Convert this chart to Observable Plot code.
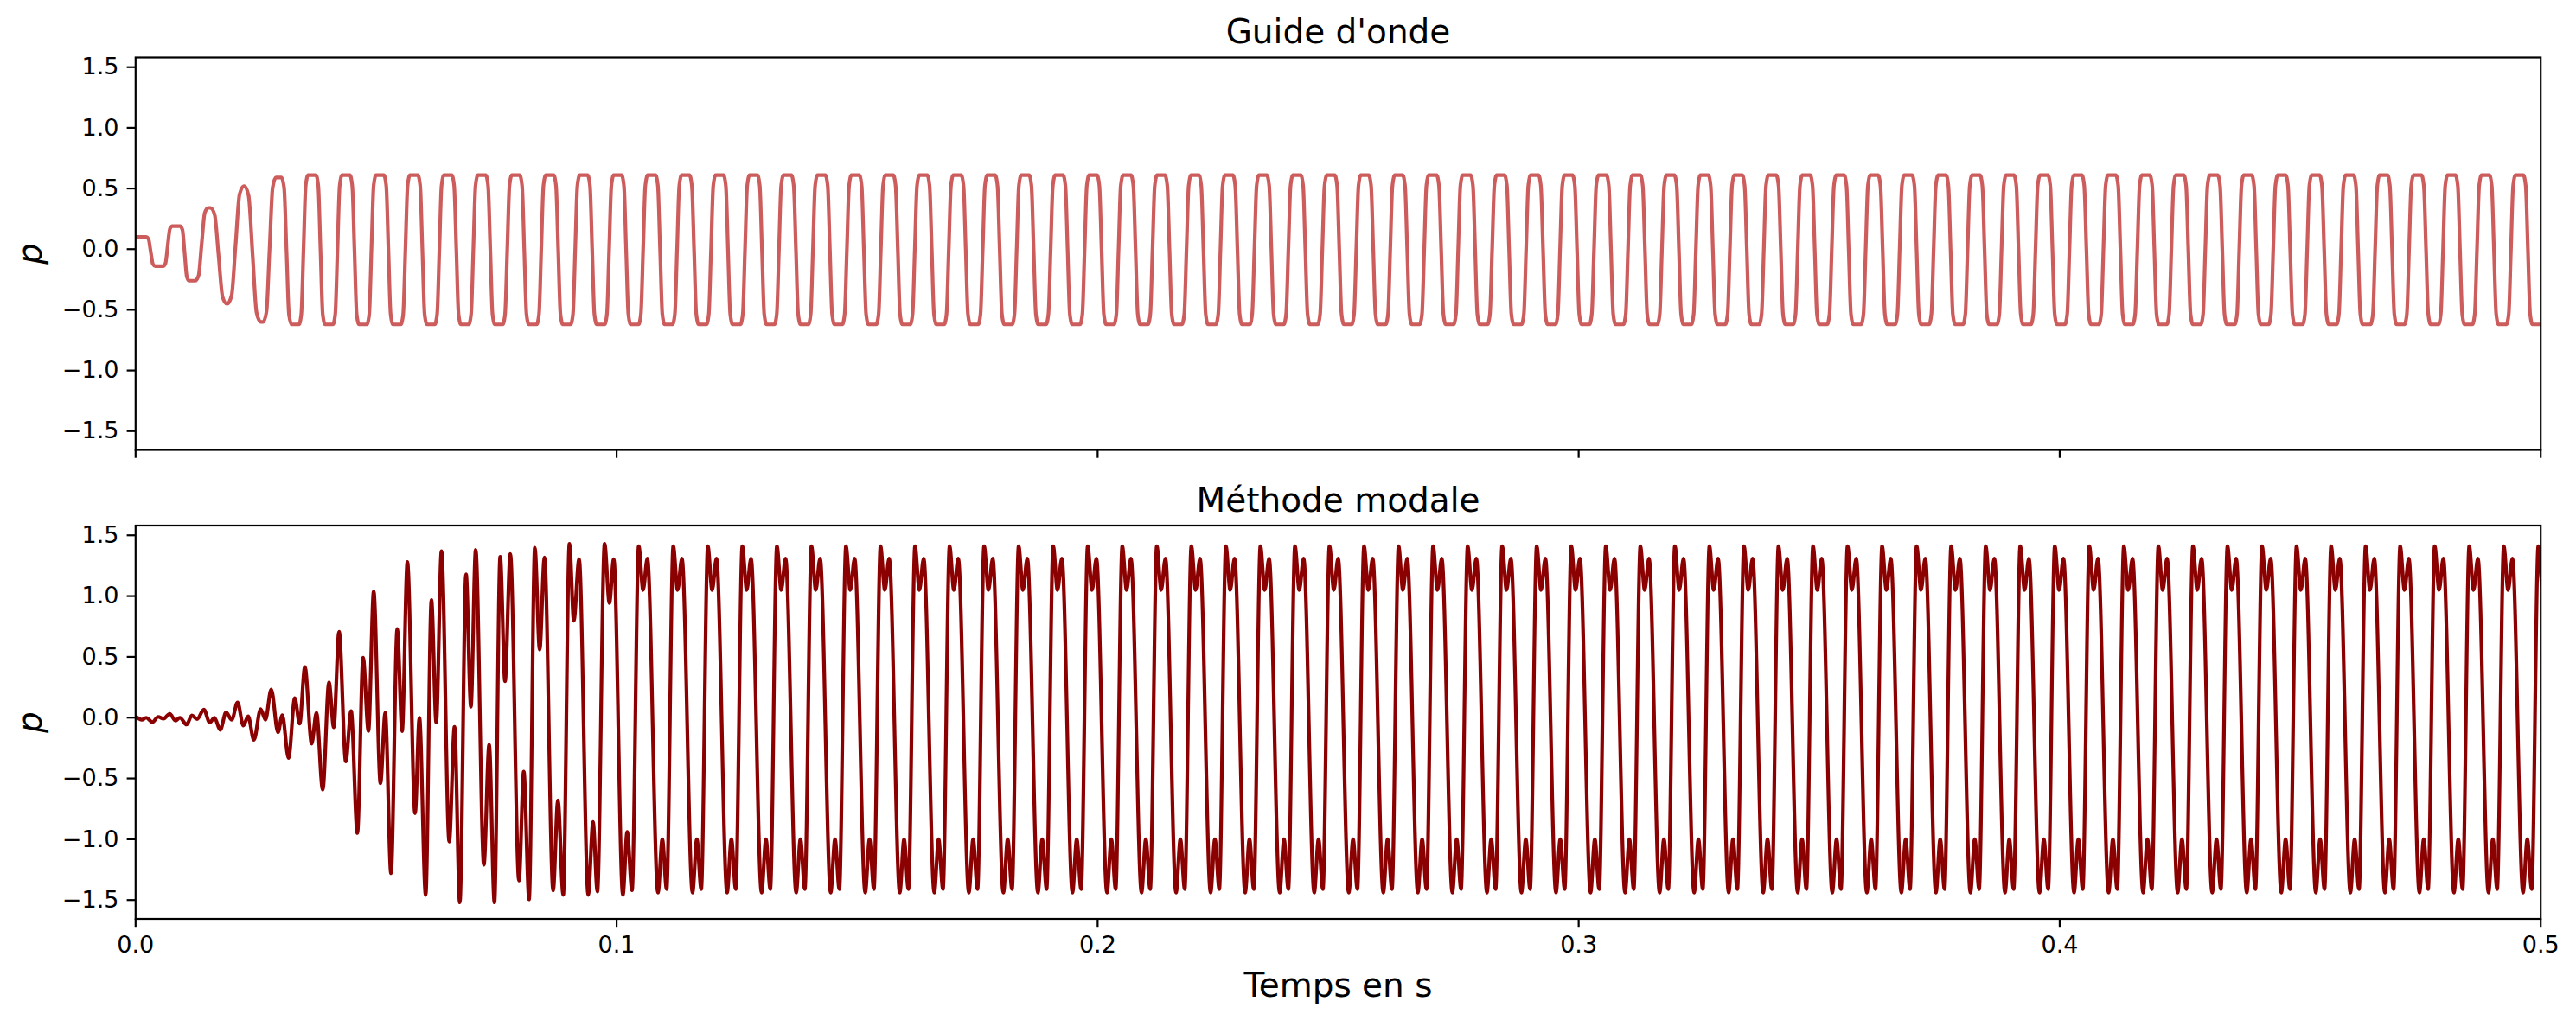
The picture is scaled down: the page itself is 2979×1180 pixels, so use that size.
<!DOCTYPE html>
<html>
<head>
<meta charset="utf-8">
<script src="https://cdn.jsdelivr.net/npm/d3@7"></script>
<script src="https://cdn.jsdelivr.net/npm/@observablehq/plot@0.6"></script>
<style>
  html, body { margin: 0; padding: 0; background: white; }
  #chart { width: 2979px; height: 1180px; }
  #chart svg { display: block; }
</style>
</head>
<body>
<div id="chart"></div>
<script>
// ---------- texts ----------
const titleTop = "Guide d'onde";
const titleBottom = "Méthode modale";
const yLabel = "p";
const xLabel = "Temps en s";

// ---------- ticks ----------
const xTicks = [0, 0.1, 0.2, 0.3, 0.4, 0.5];
const xTickLabels = ["0.0", "0.1", "0.2", "0.3", "0.4", "0.5"];
const yTicks = [-1.5, -1.0, -0.5, 0, 0.5, 1.0, 1.5];
const yTickLabels = ["−1.5", "−1.0", "−0.5", "0.0", "0.5", "1.0", "1.5"];
const xDomain = [0, 0.5];
const yDomain = [-1.655, 1.58];

// ---------- top series: "Guide d'onde" ----------
// plateau level of every half-period
const guideLevels = [
  0.10, -0.14, 0.19, -0.26, 0.34, -0.45, 0.52, -0.60, 0.59, -0.62,
  0.61, -0.62, 0.61, -0.62, 0.61, -0.62, 0.61, -0.62, 0.61, -0.62, 0.61, -0.62,
  0.61, -0.62, 0.61, -0.62, 0.61, -0.62, 0.61, -0.62, 0.61, -0.62, 0.61, -0.62,
  0.61, -0.62, 0.61, -0.62, 0.61, -0.62, 0.61, -0.62, 0.61, -0.62, 0.61, -0.62,
  0.61, -0.62, 0.61, -0.62, 0.61, -0.62, 0.61, -0.62, 0.61, -0.62, 0.61, -0.62,
  0.61, -0.62, 0.61, -0.62, 0.61, -0.62, 0.61, -0.62, 0.61, -0.62, 0.61, -0.62,
  0.61, -0.62, 0.61, -0.62, 0.61, -0.62, 0.61, -0.62, 0.61, -0.62, 0.61, -0.62,
  0.61, -0.62, 0.61, -0.62, 0.61, -0.62, 0.61, -0.62, 0.61, -0.62, 0.61, -0.62,
  0.61, -0.62, 0.61, -0.62, 0.61, -0.62, 0.61, -0.62, 0.61, -0.62, 0.61, -0.62,
  0.61, -0.62, 0.61, -0.62, 0.61, -0.62, 0.61, -0.62, 0.61, -0.62, 0.61, -0.62,
  0.61, -0.62, 0.61, -0.62, 0.61, -0.62, 0.61, -0.62, 0.61, -0.62, 0.61, -0.62,
  0.61, -0.62, 0.61, -0.62, 0.61, -0.62, 0.61, -0.62, 0.61, -0.62, 0.61, -0.62
];
// relative duration of the first switches (the early ones are rounder)
const guideEdgeWidths = [1.0, 1.0, 1.0, 1.4, 1.8, 1.8, 1.8, 1.4, 1.1];
const guideFirstEdge = 0.00314;   // s, time of first switch
const guideHalfPeriod = 0.00353;  // s
// shape of one switch: [offset in half-periods, fraction of the step]
const guideEdgeOffsets = [-0.27, -0.13, 0, 0.13, 0.27];
const guideEdgeFractions = [0, 0.07, 0.5, 0.93, 1];

// ---------- bottom series: "Méthode modale" ----------
// transient extrema
const modalTimes = [
  0.0000, 0.0013, 0.0022, 0.0035, 0.0047, 0.0058, 0.0071, 0.0083, 0.0092, 0.0106,
  0.0117, 0.0128, 0.0142, 0.0154, 0.0164, 0.0176, 0.0188, 0.0200, 0.0212, 0.0224,
  0.0234, 0.0246, 0.0260, 0.0270, 0.0282, 0.0296, 0.0305, 0.0318, 0.0331, 0.0341,
  0.0352, 0.0366, 0.0376, 0.0389, 0.0402, 0.0412, 0.0423, 0.0437, 0.0448, 0.0461,
  0.0473, 0.0484, 0.0495, 0.0509, 0.0519, 0.0531, 0.0544, 0.0554, 0.0565, 0.0581,
  0.0590, 0.0603, 0.0615, 0.0625, 0.0636, 0.0652, 0.0663, 0.0674, 0.0687, 0.0697,
  0.0707, 0.0724, 0.0735, 0.0746, 0.0758, 0.0768, 0.0779, 0.0797, 0.0807, 0.0818,
  0.0830, 0.0840, 0.0850, 0.0868, 0.0878, 0.0889, 0.0902, 0.0911, 0.0922, 0.0941,
  0.0951, 0.0960, 0.0975, 0.0985, 0.0994, 0.1013, 0.1022, 0.1032
];
const modalValues = [
  0.011, -0.017, 0.000, -0.036, 0.007, -0.009, 0.031, -0.024, 0.000, -0.057,
  0.019, -0.012, 0.066, -0.040, 0.000, -0.100, 0.043, -0.017, 0.125, -0.065,
  0.011, -0.183, 0.070, -0.017, 0.232, -0.120, 0.020, -0.332, 0.160, -0.050,
  0.417, -0.214, 0.040, -0.593, 0.290, -0.080, 0.706, -0.360, 0.055, -0.949,
  0.493, -0.110, 1.038, -0.540, 0.040, -1.280, 0.730, -0.112, 1.280, -0.787,
  0.000, -1.458, 0.967, -0.040, 1.370, -1.020, -0.076, -1.520, 1.180, 0.090,
  1.380, -1.210, -0.223, -1.520, 1.323, 0.300, 1.346, -1.340, -0.444, -1.494,
  1.398, 0.559, 1.318, -1.422, -0.680, -1.458, 1.430, 0.797, 1.304, -1.458,
  -0.858, -1.430, 1.430, 0.943, 1.304, -1.458, -0.940, -1.420
];
// steady-state cycle (offsets from the main peak)
const modalCycleOffsets = [0, 0.0009, 0.0018, 0.0040, 0.0049, 0.0058];
const modalCycleValues = [1.41, 1.05, 1.31, -1.44, -1.00, -1.41];
const modalSteadyStart = 0.1046;  // s, first steady main peak
const modalPeriod = 0.00718;      // s

// ---------- build point tables ----------
const guideData = [{t: 0, p: guideLevels[0]}];
for (let j = 0; j < guideLevels.length - 1; j++) {
  const e = guideFirstEdge + j * guideHalfPeriod;
  const w = j < guideEdgeWidths.length ? guideEdgeWidths[j] : 1;
  const a = guideLevels[j], b = guideLevels[j + 1];
  guideEdgeOffsets.forEach((u, k) => {
    guideData.push({t: e + u * w * guideHalfPeriod, p: a + guideEdgeFractions[k] * (b - a)});
  });
}
guideData.push({t: 0.5, p: guideLevels[guideLevels.length - 1]});

const modalData = modalTimes.map((t, i) => ({t, p: modalValues[i]}));
for (let start = modalSteadyStart; start < 0.5; start += modalPeriod) {
  modalCycleOffsets.forEach((o, k) => modalData.push({t: start + o, p: modalCycleValues[k]}));
}

// ---------- plotting ----------
const font = "DejaVu Sans";
const tickSize = 9.7, tickPad = 9.7, spine = 2.2;
const fmtX = d => xTickLabels[xTicks.indexOf(d)];
const fmtY = d => yTickLabels[yTicks.indexOf(d)];

function panel({data, color, title, height, marginTop, marginBottom, showXLabels}) {
  return Plot.plot({
    width: 2979,
    height,
    marginLeft: 156.3,
    marginRight: 41.3,
    marginTop,
    marginBottom,
    style: {fontFamily: font, fontSize: "27px", color: "black", background: "white", overflow: "visible"},
    x: {domain: xDomain},
    y: {domain: yDomain},
    marks: [
      Plot.line(data, {x: "t", y: "p", stroke: color, strokeWidth: 4.2, curve: "monotone-x", clip: true}),
      Plot.frame({stroke: "black", strokeWidth: spine}),
      Plot.axisY({ticks: yTicks, tickFormat: fmtY, tickSize, tickPadding: tickPad, strokeWidth: spine, label: null, fontSize: 27}),
      Plot.axisX({ticks: xTicks, tickFormat: showXLabels ? fmtX : () => "", tickSize, tickPadding: tickPad, strokeWidth: spine, label: null, fontSize: 27}),
      Plot.text([title], {text: d => d, frameAnchor: "top", dy: -16.5, lineAnchor: "bottom", fontSize: 39, fill: "black"}),
      Plot.text([yLabel], {text: d => d, frameAnchor: "left", dx: -121, rotate: -90, textAnchor: "middle", lineAnchor: "middle", fontSize: 39, fontStyle: "italic", fill: "black"}),
      ...(showXLabels ? [Plot.text([xLabel], {text: d => d, frameAnchor: "bottom", dy: 90, lineAnchor: "bottom", fontSize: 39, fill: "black"})] : [])
    ]
  });
}

const chart = document.getElementById("chart");
chart.append(panel({data: guideData, color: "#CD5C5C", title: titleTop, height: 540, marginTop: 66, marginBottom: 20, showXLabels: false}));
chart.append(panel({data: modalData, color: "#8B0000", title: titleBottom, height: 640, marginTop: 67.5, marginBottom: 117.5, showXLabels: true}));
</script>
</body>
</html>
